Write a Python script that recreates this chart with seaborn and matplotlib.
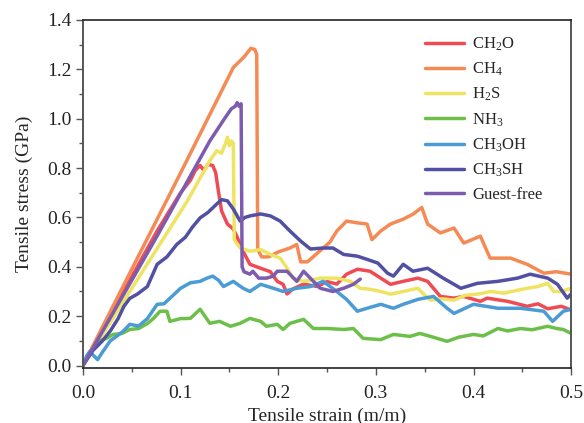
import numpy as np
import pandas as pd
import matplotlib
matplotlib.use("Agg")
import matplotlib.pyplot as plt
import seaborn as sns
from matplotlib.ticker import MultipleLocator

# CH2O
ch2o_x = [0, 0.05, 0.076, 0.1, 0.11, 0.115, 0.12, 0.124, 0.128, 0.133, 0.136, 0.139, 0.142, 0.148,
          0.154, 0.158, 0.161, 0.164, 0.171, 0.182, 0.192, 0.199, 0.205, 0.209, 0.215, 0.226, 0.24,
          0.25, 0.26, 0.27, 0.281, 0.294, 0.305, 0.315, 0.328, 0.343, 0.353, 0.366, 0.38, 0.39,
          0.407, 0.414, 0.435, 0.455, 0.466, 0.476, 0.49, 0.5]
ch2o_y = [0, 0.36, 0.545, 0.7, 0.75, 0.79, 0.81, 0.79, 0.815, 0.81, 0.78, 0.70, 0.626, 0.573,
          0.553, 0.52, 0.49, 0.463, 0.41, 0.394, 0.38, 0.341, 0.329, 0.29, 0.31, 0.33, 0.32,
          0.34, 0.33, 0.37, 0.39, 0.382, 0.354, 0.329, 0.341, 0.354, 0.341, 0.28, 0.273, 0.28,
          0.26, 0.273, 0.26, 0.24, 0.25, 0.23, 0.24, 0.225]

# CH4
ch4_x = [0, 0.05, 0.1, 0.154, 0.165, 0.172, 0.176, 0.178, 0.179, 0.183, 0.19, 0.2, 0.212, 0.219,
         0.223, 0.23, 0.24, 0.253, 0.26, 0.27, 0.281, 0.291, 0.296, 0.305, 0.315, 0.328, 0.338,
         0.347, 0.353, 0.366, 0.38, 0.39, 0.407, 0.417, 0.438, 0.455, 0.472, 0.485, 0.5]
ch4_y = [0, 0.39, 0.78, 1.207, 1.25, 1.285, 1.28, 1.26, 0.47, 0.44, 0.44, 0.46, 0.476, 0.49,
         0.42, 0.42, 0.455, 0.50, 0.545, 0.585, 0.578, 0.573, 0.51, 0.545, 0.573, 0.593, 0.613,
         0.64, 0.573, 0.537, 0.557, 0.496, 0.524, 0.435, 0.435, 0.41, 0.374, 0.38, 0.37]

# H2S
h2s_x = [0, 0.048, 0.107, 0.13, 0.137, 0.142, 0.146, 0.148, 0.15, 0.152, 0.154, 0.155, 0.161,
         0.171, 0.182, 0.192, 0.202, 0.209, 0.215, 0.226, 0.243, 0.26, 0.274, 0.284, 0.294, 0.305,
         0.315, 0.328, 0.343, 0.349, 0.356, 0.368, 0.38, 0.392, 0.404, 0.418, 0.431, 0.445, 0.455,
         0.466, 0.476, 0.482, 0.49, 0.5]
h2s_y = [0, 0.30, 0.667, 0.83, 0.87, 0.86, 0.9, 0.925, 0.89, 0.91, 0.90, 0.51, 0.476,
         0.463, 0.47, 0.45, 0.435, 0.395, 0.354, 0.341, 0.354, 0.354, 0.341, 0.313, 0.309, 0.30,
         0.289, 0.30, 0.313, 0.289, 0.265, 0.27, 0.265, 0.285, 0.289, 0.30, 0.293, 0.305, 0.313,
         0.32, 0.333, 0.30, 0.30, 0.313]

# NH3
nh3_x = [0, 0.004, 0.01, 0.017, 0.024, 0.031, 0.04, 0.048, 0.057, 0.066, 0.072, 0.079, 0.086,
         0.089, 0.1, 0.11, 0.12, 0.13, 0.14, 0.151, 0.161, 0.171, 0.182, 0.188, 0.199, 0.205,
         0.212, 0.226, 0.236, 0.25, 0.267, 0.277, 0.287, 0.305, 0.318, 0.335, 0.345, 0.356, 0.373,
         0.385, 0.4, 0.41, 0.425, 0.435, 0.448, 0.46, 0.476, 0.485, 0.492, 0.5]
nh3_y = [0, 0.03, 0.07, 0.1, 0.11, 0.126, 0.13, 0.146, 0.15, 0.17, 0.19, 0.22, 0.22,
         0.179, 0.19, 0.191, 0.228, 0.171, 0.179, 0.159, 0.171, 0.191, 0.179, 0.159, 0.167, 0.146,
         0.171, 0.187, 0.15, 0.15, 0.146, 0.15, 0.11, 0.105, 0.126, 0.118, 0.13, 0.118, 0.098,
         0.115, 0.126, 0.12, 0.15, 0.14, 0.15, 0.145, 0.159, 0.15, 0.146, 0.13]

# CH3OH
ch3oh_x = [0, 0.004, 0.007, 0.011, 0.015, 0.021, 0.028, 0.035, 0.041, 0.048, 0.057, 0.066, 0.076,
           0.083, 0.089, 0.1, 0.11, 0.12, 0.127, 0.133, 0.139, 0.144, 0.154, 0.164, 0.171, 0.182,
           0.195, 0.205, 0.219, 0.233, 0.246, 0.26, 0.27, 0.281, 0.291, 0.305, 0.318, 0.328, 0.343,
           0.359, 0.373, 0.38, 0.4, 0.425, 0.448, 0.472, 0.481, 0.492, 0.5]
ch3oh_y = [0, 0.04, 0.057, 0.04, 0.024, 0.06, 0.1, 0.12, 0.138, 0.167, 0.16, 0.19, 0.248,
           0.25, 0.272, 0.313, 0.335, 0.341, 0.354, 0.362, 0.345, 0.32, 0.341, 0.313, 0.30, 0.329,
           0.313, 0.30, 0.313, 0.32, 0.341, 0.30, 0.268, 0.22, 0.232, 0.248, 0.232, 0.248, 0.268,
           0.28, 0.232, 0.211, 0.248, 0.232, 0.232, 0.22, 0.179, 0.22, 0.228]

# CH3SH
ch3sh_x = [0, 0.01, 0.02, 0.028, 0.036, 0.042, 0.048, 0.056, 0.066, 0.076, 0.086, 0.096, 0.105,
           0.112, 0.12, 0.128, 0.137, 0.142, 0.148, 0.154, 0.161, 0.166, 0.171, 0.182, 0.192,
           0.202, 0.212, 0.223, 0.233, 0.246, 0.256, 0.267, 0.281, 0.291, 0.302, 0.312, 0.318,
           0.328, 0.338, 0.353, 0.369, 0.387, 0.404, 0.425, 0.445, 0.458, 0.476, 0.486, 0.496, 0.5]
ch3sh_y = [0, 0.06, 0.1, 0.14, 0.19, 0.24, 0.272, 0.29, 0.32, 0.41, 0.44, 0.49, 0.52,
           0.56, 0.598, 0.62, 0.654, 0.672, 0.667, 0.634, 0.585, 0.6, 0.606, 0.614, 0.606,
           0.585, 0.545, 0.504, 0.472, 0.476, 0.476, 0.45, 0.443, 0.43, 0.415, 0.374, 0.362,
           0.41, 0.382, 0.394, 0.354, 0.313, 0.333, 0.341, 0.354, 0.37, 0.354, 0.329, 0.273, 0.29]

# Guest-free
free_x = [0, 0.076, 0.13, 0.145, 0.152, 0.156, 0.158, 0.16, 0.162, 0.163, 0.165, 0.171, 0.174,
          0.18, 0.188, 0.195, 0.199, 0.209, 0.219, 0.226, 0.236, 0.243, 0.256, 0.267, 0.277, 0.284]
free_y = [0, 0.525, 0.91, 1.0, 1.04, 1.05, 1.065, 1.05, 1.06, 0.40, 0.38, 0.37, 0.382,
          0.354, 0.354, 0.362, 0.382, 0.382, 0.341, 0.382, 0.341, 0.313, 0.30, 0.313, 0.329, 0.35]

labels = ["CH$_2$O", "CH$_4$", "H$_2$S", "NH$_3$", "CH$_3$OH", "CH$_3$SH", "Guest-free"]
colors = ["#EE4B55", "#F58A55", "#EEE462", "#6CC04A", "#4B9BD5", "#5150A2", "#7C5CAE"]
series = [(ch2o_x, ch2o_y), (ch4_x, ch4_y), (h2s_x, h2s_y), (nh3_x, nh3_y),
          (ch3oh_x, ch3oh_y), (ch3sh_x, ch3sh_y), (free_x, free_y)]

sns.set_style("ticks")
plt.rcParams['font.family'] = ['Liberation Serif', 'DejaVu Serif']
plt.rcParams['mathtext.fontset'] = 'custom'
plt.rcParams['mathtext.rm'] = 'Liberation Serif'
plt.rcParams['mathtext.it'] = 'Liberation Serif:italic'

fig = plt.figure(figsize=(5.84, 4.23), dpi=100)
ax = fig.add_axes([0.142, 0.130, 0.836, 0.823])

for (xs, ys), lab, col in zip(series, labels, colors):
    df = pd.DataFrame({"strain": xs, "stress": ys})
    sns.lineplot(data=df, x="strain", y="stress", ax=ax, color=col, label=lab,
                 sort=False, estimator=None, linewidth=2.5)

ax.set_xlim(0, 0.5)
ax.set_ylim(-0.01, 1.4)
ax.xaxis.set_major_locator(MultipleLocator(0.1))
ax.xaxis.set_minor_locator(MultipleLocator(0.05))
ax.yaxis.set_major_locator(MultipleLocator(0.2))
ax.yaxis.set_minor_locator(MultipleLocator(0.1))
ax.set_xticks(np.arange(0, 0.51, 0.1))
ax.set_xticklabels([f"{v:.1f}" for v in np.arange(0, 0.51, 0.1)])
ax.set_yticks(np.arange(0, 1.41, 0.2))
ax.set_yticklabels([f"{v:.1f}" for v in np.arange(0, 1.41, 0.2)])
ax.tick_params(axis='both', which='major', length=5, width=1, color='#555555',
               labelsize=14, labelcolor='#222222')
ax.tick_params(axis='x', which='major', pad=7)
ax.tick_params(axis='y', which='major', pad=3)
ax.tick_params(axis='both', which='minor', length=3, width=1, color='#555555')

for side in ['left', 'right']:
    ax.spines[side].set_color('#555555')
    ax.spines[side].set_linewidth(1.4)
for side in ['top', 'bottom']:
    ax.spines[side].set_color('#222222')
    ax.spines[side].set_linewidth(1.2)

ax.set_xlabel("Tensile strain (m/m)", fontsize=14, labelpad=4)
ax.set_ylabel("Tensile stress (GPa)", fontsize=14, labelpad=10)

ax.legend(loc='upper right', frameon=False, fontsize=12, handlelength=2.3,
          labelspacing=0.47, bbox_to_anchor=(0.975, 1.003), borderaxespad=0.6,
          handletextpad=0.5)

fig.savefig("out.png", dpi=100)
